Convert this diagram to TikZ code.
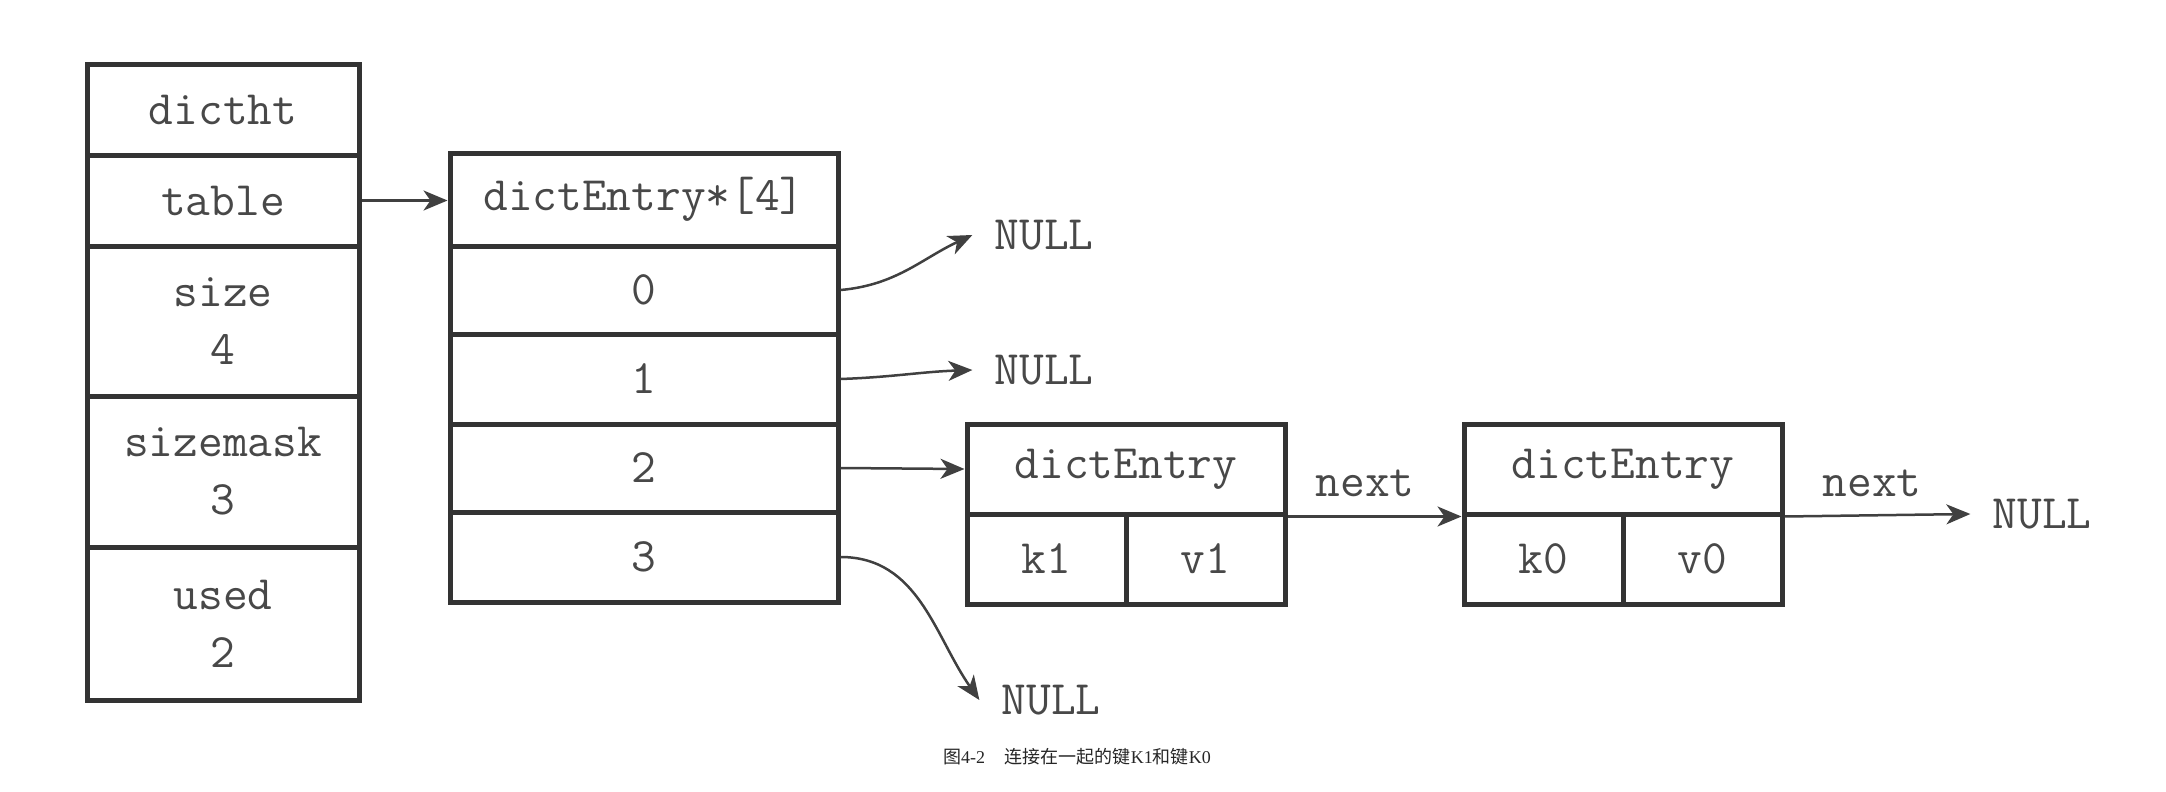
\documentclass[tikz,border=0pt]{standalone}
\usepackage{fontspec}
\setmainfont{Liberation Serif}
\newfontfamily\cjk{Noto Sans CJK SC}
\newfontfamily\codefont{Latin Modern Mono}
\usetikzlibrary{arrows.meta}
\definecolor{boxline}{HTML}{333333}
\definecolor{txt}{HTML}{484848}
\definecolor{arr}{HTML}{404040}
\begin{document}
\begin{tikzpicture}[x=1pt,y=-1pt,
  cell/.style={draw=boxline, line width=5pt, inner sep=0pt, text=txt,
    font=\codefont\fontsize{48}{58}\selectfont, align=center},
  lbl/.style={inner sep=0pt, text=txt, font=\codefont\fontsize{48}{58}\selectfont},
  nul/.style={lbl, inner xsep=22pt},
  link/.style={draw=arr, line width=2.5pt, -{Stealth[length=24pt,width=20pt,inset=7pt]}}]
\fill[white] (0,0) rectangle (2166,792);
\useasboundingbox (0,0) rectangle (2166,792);
% dictht
\node[cell, minimum width=272pt, minimum height=90pt] (dictht) at (223,110) {dictht};
\node[cell, minimum width=272pt, minimum height=91pt] (table) at (223,200.5) {table};
\node[cell, minimum width=272pt, minimum height=150pt] (size) at (223,321) {size\\4};
\node[cell, minimum width=272pt, minimum height=151pt] (sizemask) at (223,471.5) {sizemask\\3};
\node[cell, minimum width=272pt, minimum height=153pt] (used) at (223,623.5) {used\\2};
% array
\node[cell, minimum width=388pt, minimum height=93pt] (hdr) at (644,199.5) {dictEntry*[4]};
\node[cell, minimum width=388pt, minimum height=88pt] (a0) at (644,290) {0};
\node[cell, minimum width=388pt, minimum height=90pt] (a1) at (644,379) {1};
\node[cell, minimum width=388pt, minimum height=88pt] (a2) at (644,468) {2};
\node[cell, minimum width=388pt, minimum height=90pt] (a3) at (644,557) {3};
% entry 1
\node[cell, minimum width=318pt, minimum height=90pt] (e1h) at (1126,469) {dictEntry};
\node[cell, minimum width=159pt, minimum height=90pt] (k1) at (1046.5,559) {k1};
\node[cell, minimum width=159pt, minimum height=90pt] (v1) at (1205.5,559) {v1};
% entry 2
\node[cell, minimum width=318pt, minimum height=90pt] (e2h) at (1623,469) {dictEntry};
\node[cell, minimum width=159pt, minimum height=90pt] (k0) at (1543.5,559) {k0};
\node[cell, minimum width=159pt, minimum height=90pt] (v0) at (1702.5,559) {v0};
% NULLs
\node[nul] (n0) at (1044,235) {NULL};
\node[nul] (n1) at (1044,370) {NULL};
\node[nul] (n3) at (1051,700) {NULL};
\node[nul] (n4) at (2042,514) {NULL};
% labels
\node[lbl] (next1) at (1365,483) {next};
\node[lbl] (next2) at (1872,483) {next};
% caption
\node[inner sep=0pt, text=black!85, font=\fontsize{18}{22}\selectfont] (cap) at (1077,757)
  {{\cjk 图}4-2\hspace{1.1em}{\cjk 连接在一起的键}K1{\cjk 和键}K0};
% connectors
\draw[link] (table.east) -- (table.east -| hdr.west);
\draw[link] (a0.east) to[out=5,in=205] (n0.west);
\draw[link] (a1.east) to[out=2,in=182] (n1.west);
\draw[link] (a2.east) -- (e1h.west);
\draw[link] (a3.east) to[out=0,in=125] (n3.west);
\draw[link] (e1h.south east) -- (e2h.south west);
\draw[link] (e2h.south east) -- (n4.west);
\end{tikzpicture}
\end{document}
